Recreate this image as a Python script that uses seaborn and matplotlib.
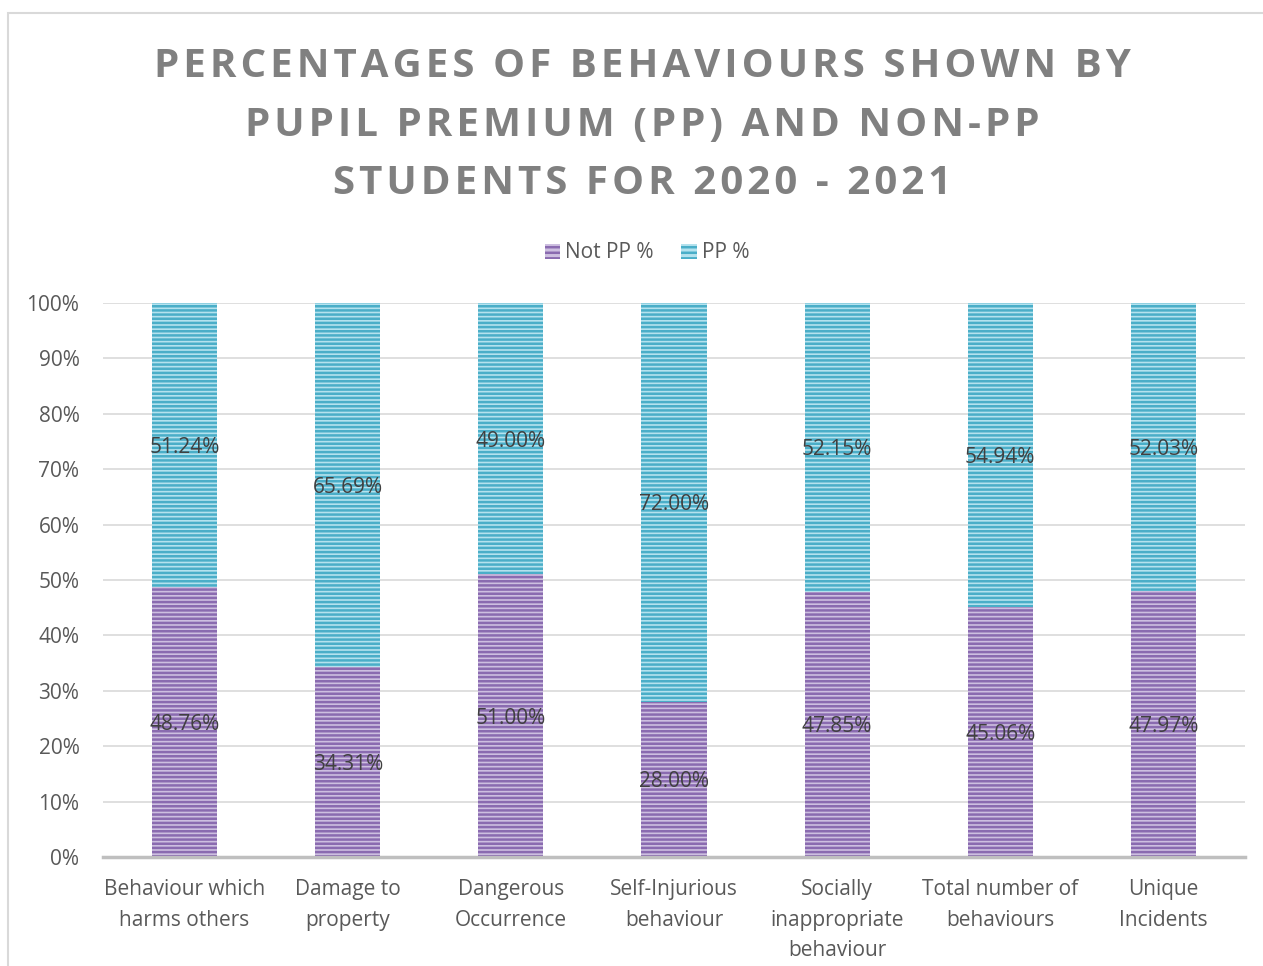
import matplotlib
matplotlib.use("Agg")
import matplotlib.pyplot as plt
import seaborn as sns
import pandas as pd
from matplotlib.patches import Rectangle

categories = ["Behaviour which\nharms others", "Damage to\nproperty", "Dangerous\nOccurrence",
              "Self-Injurious\nbehaviour", "Socially\ninappropriate\nbehaviour",
              "Total number of\nbehaviours", "Unique\nIncidents"]
not_pp = [48.76, 34.31, 51.00, 28.00, 47.85, 45.06, 47.97]
pp = [51.24, 65.69, 49.00, 72.00, 52.15, 54.94, 52.03]
yticks = [0, 10, 20, 30, 40, 50, 60, 70, 80, 90, 100]
title = "PERCENTAGES OF BEHAVIOURS SHOWN BY\nPUPIL PREMIUM (PP) AND NON-PP\nSTUDENTS FOR 2020 - 2021"

sns.set_theme(style="white")
plt.rcParams["font.family"] = ["Open Sans", "DejaVu Sans"]
plt.rcParams["hatch.linewidth"] = 1.8

purple_fill, purple_line = "#cdbfe0", "#8a6bb0"
blue_fill, blue_line = "#b4e2ee", "#4aaec8"

df = pd.DataFrame({"cat": categories, "not_pp": not_pp, "pp": pp})
df["total"] = df["not_pp"] + df["pp"]

fig = plt.figure(figsize=(12.63, 9.66), dpi=100)
ax = fig.add_axes([103 / 1263, 1 - 857 / 966, 1142 / 1263, 554 / 966])

sns.barplot(data=df, x="cat", y="total", ax=ax, color=blue_fill, width=0.40,
            saturation=1, edgecolor=blue_line, linewidth=0, hatch="----")
sns.barplot(data=df, x="cat", y="not_pp", ax=ax, color=purple_fill, width=0.40,
            saturation=1, edgecolor=purple_line, linewidth=0, hatch="----")

for i, (a, b) in enumerate(zip(not_pp, pp)):
    ax.text(i, a / 2, f"{a:.2f}%", ha="center", va="center_baseline", fontsize=15, color="#404040")
    ax.text(i, a + b / 2, f"{b:.2f}%", ha="center", va="center_baseline", fontsize=15, color="#404040")

ax.set_xlim(-0.5, len(categories) - 0.5)
ax.set_ylim(0, 100)
ax.set_yticks(yticks)
ax.set_yticklabels([f"{t}%" for t in yticks])
ax.yaxis.grid(True, color="#d9d9d9", linewidth=1.2)
ax.set_axisbelow(True)
for s in ["top", "right", "left"]:
    ax.spines[s].set_visible(False)
ax.spines["bottom"].set_color("#bfbfbf")
ax.spines["bottom"].set_linewidth(2.5)
ax.spines["bottom"].set_zorder(5)
ax.tick_params(axis="both", length=0, labelsize=15, colors="#595959")
ax.tick_params(axis="x", pad=16)
ax.tick_params(axis="y", pad=17)
ax.set_xlabel("")
ax.set_ylabel("")
for lbl in ax.get_xticklabels():
    lbl.set_linespacing(1.6)

# legend
handles = [Rectangle((0, 0), 1, 1, facecolor=purple_fill, edgecolor=purple_line, hatch="---", linewidth=0),
           Rectangle((0, 0), 1, 1, facecolor=blue_fill, edgecolor=blue_line, hatch="---", linewidth=0)]
fig.legend(handles, ["Not PP %", "PP %"], loc="center", bbox_to_anchor=(647 / 1263, 1 - 253 / 966),
           ncol=2, frameon=False, fontsize=15, labelcolor="#595959", handlelength=0.75,
           handleheight=0.75, handletextpad=0.25, columnspacing=1.3)

# title with widened letter spacing
spaced = "\n".join("\u200a".join(list(line)) for line in title.split("\n"))
fig.text(642 / 1263, 1 - 125 / 966, spaced, ha="center", va="center", fontsize=29,
         fontweight="bold", color="#808080", linespacing=1.65)

# chart frame
fig.patches.append(Rectangle((8 / 1263, -0.01), 1.1, 1 - 13 / 966 + 0.01, transform=fig.transFigure,
                             fill=False, edgecolor="#d9d9d9", linewidth=1.5))

fig.savefig("out.png", dpi=100, facecolor="white")
